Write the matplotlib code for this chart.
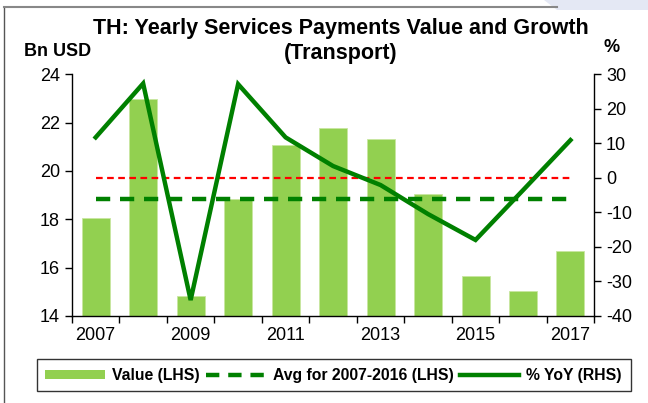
import matplotlib
matplotlib.use("Agg")
import matplotlib.pyplot as plt
from matplotlib.lines import Line2D
from matplotlib.patches import Patch, Polygon
import numpy as np

plt.rcParams['font.family'] = ['Liberation Sans', 'DejaVu Sans']
plt.rcParams['axes.unicode_minus'] = False

years = [2007, 2008, 2009, 2010, 2011, 2012, 2013, 2014, 2015, 2016, 2017]
values = [18.05, 22.97, 14.81, 18.83, 21.07, 21.76, 21.33, 19.04, 15.65, 15.05, 16.69]
yoy = [11.7, 27.3, -35.4, 27.1, 11.7, 3.4, -2.1, -10.5, -18.0, -3.6, 10.9]
avg_years = (2007, 2016)
xlabels = ['2007', '', '2009', '', '2011', '', '2013', '', '2015', '', '2017']

avg = np.mean([v for y, v in zip(years, values) if avg_years[0] <= y <= avg_years[1]])

bar_color = '#92D050'
line_color = '#008000'

fig = plt.figure(figsize=(6.48, 4.03), dpi=100)
ax = fig.add_axes([0.111, 0.216, 0.806, 0.600])
ax2 = ax.twinx()

x = np.arange(len(years))
ax.bar(x, values, width=0.59, color=bar_color, edgecolor='#C8E6A0', linewidth=0.6, zorder=2)
ax.plot([x[0], x[-1]], [avg, avg], color=line_color, lw=3.2, ls=(0, (3.2, 2.2)), zorder=3)
ax2.plot([x[0], x[-1]], [0, 0], color='red', lw=1.6, ls=(0, (3, 2)), zorder=3)
ax2.plot(x, yoy, color=line_color, lw=3.2, zorder=4, solid_joinstyle='miter')

ax.set_xlim(-0.5, len(years) - 0.5)
ax.set_ylim(14, 24)
ax.set_yticks(np.arange(14, 25, 2))
ax2.set_ylim(-40, 30)
ax2.set_yticks(np.arange(-40, 31, 10))

ax.set_xticks(x)
ax.set_xticklabels(xlabels)
ax.set_xticks(np.arange(-0.5, len(years), 1), minor=True)
ax.tick_params(axis='x', which='major', length=0, labelsize=13, pad=8)
ax.tick_params(axis='x', which='minor', length=5, direction='out', width=1)
ax.tick_params(axis='y', length=5, direction='out', labelsize=13, width=1)
ax2.tick_params(axis='y', length=5, direction='out', labelsize=13, width=1)

for a in (ax, ax2):
    a.spines['top'].set_visible(False)
ax2.spines['left'].set_visible(False)
ax2.spines['bottom'].set_visible(False)
ax.spines['right'].set_visible(False)
for s in ('left', 'bottom'):
    ax.spines[s].set_linewidth(1)
ax2.spines['right'].set_linewidth(1)

fig.text(0.526, 0.930, 'TH: Yearly Services Payments Value and Growth', ha='center', va='center',
         fontsize=15.5, fontweight='bold')
fig.text(0.526, 0.868, '(Transport)', ha='center', va='center', fontsize=15.5, fontweight='bold')
fig.text(0.089, 0.872, 'Bn USD', ha='center', va='center', fontsize=13, fontweight='bold')
fig.text(0.943, 0.882, '%', ha='center', va='center', fontsize=13, fontweight='bold')

handles = [Patch(facecolor=bar_color, edgecolor='none'),
           Line2D([], [], color=line_color, lw=3.2, ls=(0, (3, 2))),
           Line2D([], [], color=line_color, lw=3.2)]
labels = ['Value (LHS)', 'Avg for 2007-2016 (LHS)', '% YoY (RHS)']
leg = fig.legend(handles, labels, loc='center', bbox_to_anchor=(0.515, 0.069), ncol=3,
                 frameon=True, fancybox=False, edgecolor='black', prop={'weight': 'bold', 'size': 11.3},
                 handlelength=3.8, handleheight=0.5, columnspacing=0.4, handletextpad=0.45,
                 borderpad=0.55, borderaxespad=0)
leg.get_frame().set_linewidth(1)

fig.add_artist(Line2D([0.006, 0.006], [0, 0.983], color='#555555', lw=1, transform=fig.transFigure))
fig.add_artist(Line2D([0.006, 0.86], [0.983, 0.983], color='#888888', lw=1.5, transform=fig.transFigure))
fig.add_artist(Polygon([[0.84, 1.0], [1.0, 1.0], [1.0, 0.975], [0.86, 0.975]], closed=True,
                       facecolor='#E4E8F4', edgecolor='none', transform=fig.transFigure))

fig.savefig('out.png', dpi=100)
